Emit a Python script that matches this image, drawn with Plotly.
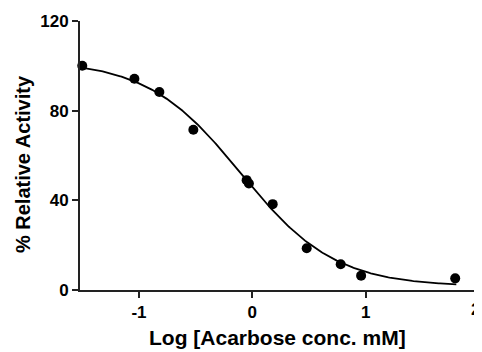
import numpy as np
import plotly.graph_objects as go

# Measured data (log concentration, % relative activity)
log_conc = [-1.5, -1.04, -0.82, -0.52, -0.05, -0.03, 0.18, 0.48, 0.78, 0.96, 1.79]
activity = [100.0, 94.2, 88.3, 71.5, 49.0, 47.5, 38.3, 18.6, 11.5, 6.4, 5.2]

# Four-parameter logistic fit parameters
fit_top = 102.5
fit_bottom = 1.5
fit_log_ic50 = -0.1
fit_hill = 1.05

x_ticks = [-1, 0, 1, 2]
x_ticklabels = ["-1", "0", "1", ""]   # last label drawn as annotation at the edge
edge_label = "2"
y_ticks = [0, 40, 80, 120]
x_title = "<b>Log [Acarbose conc. mM]</b>"
y_title = "<b>% Relative Activity</b>"

x_fit = np.linspace(-1.52, 1.8, 300)
y_fit = fit_bottom + (fit_top - fit_bottom) / (1 + 10 ** ((x_fit - fit_log_ic50) * fit_hill))

font_family = "Liberation Sans, Arial, sans-serif"

fig = go.Figure()
fig.add_trace(go.Scatter(x=x_fit, y=y_fit, mode="lines",
                         line=dict(color="black", width=1.8),
                         hoverinfo="skip", cliponaxis=False))
fig.add_trace(go.Scatter(x=log_conc, y=activity, mode="markers",
                         marker=dict(color="black", size=10),
                         cliponaxis=False))

# the page body has an 8px margin, so the figure is sized/offset to compensate
fig.update_layout(
    width=474, height=344,
    margin=dict(l=72, r=3, t=13, b=62, autoexpand=False),
    plot_bgcolor="white", paper_bgcolor="white",
    showlegend=False,
    font=dict(family=font_family, color="black"),
    annotations=[
        dict(text=x_title, xref="paper", yref="paper", x=0.495, y=-0.175,
             xanchor="center", yanchor="middle", showarrow=False,
             font=dict(size=21, family=font_family, color="black")),
        dict(text=y_title, xref="paper", yref="paper", x=-0.143, y=0.468,
             xanchor="center", yanchor="middle", showarrow=False, textangle=-90,
             font=dict(size=20, family=font_family, color="black")),
        dict(text="<b>%s</b>" % edge_label, xref="paper", yref="paper", x=1.0075, y=-0.03,
             xanchor="right", yanchor="top", showarrow=False,
             font=dict(size=17, family=font_family, color="black")),
    ],
)
fig.update_xaxes(
    range=[-1.52, 2.0], tickvals=x_ticks, ticktext=x_ticklabels,
    showgrid=False, zeroline=False, automargin=False, ticklabeloverflow="allow",
    showline=True, linecolor="#222", linewidth=2,
    ticks="outside", ticklen=6, tickwidth=1.5, tickcolor="#222",
    tickfont=dict(size=17, family=font_family, weight="bold"),
)
fig.update_yaxes(
    range=[0, 120], tickvals=y_ticks, ticktext=[str(v) for v in y_ticks],
    showgrid=False, zeroline=False, automargin=False, ticklabeloverflow="allow",
    showline=True, linecolor="#222", linewidth=2,
    ticks="outside", ticklen=6, tickwidth=1.5, tickcolor="#222",
    tickfont=dict(size=17, family=font_family, weight="bold"),
)

fig.write_html("out.html")
